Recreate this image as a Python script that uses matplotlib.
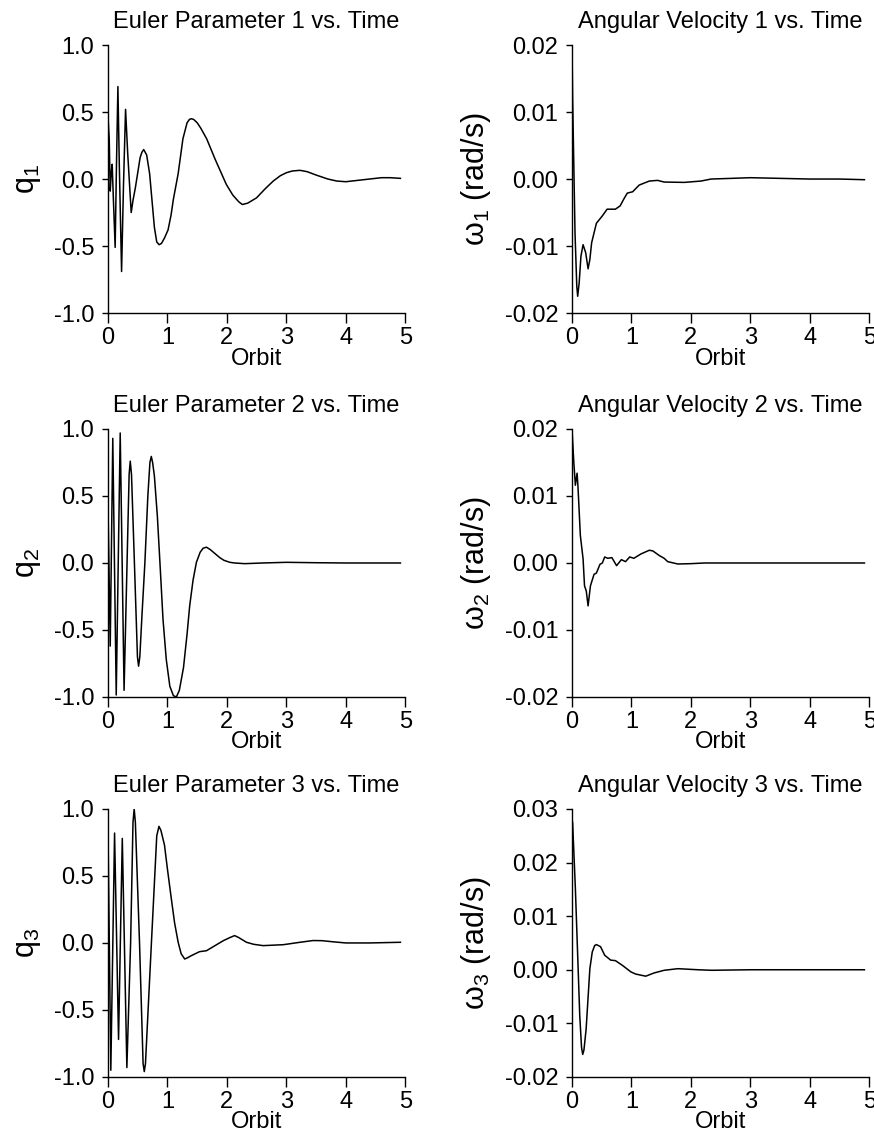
import numpy as np
import matplotlib
matplotlib.use('Agg')
import matplotlib.pyplot as plt
from matplotlib.ticker import FormatStrFormatter

plt.rcParams['font.family'] = ['Liberation Sans', 'DejaVu Sans']
plt.rcParams['mathtext.fontset'] = 'custom'
plt.rcParams['mathtext.rm'] = 'Liberation Sans'
plt.rcParams['mathtext.it'] = 'Liberation Sans'
plt.rcParams['mathtext.default'] = 'regular'
plt.rcParams['axes.unicode_minus'] = False

# values (orbit, value)
q1_t = [0.0, 0.02, 0.037, 0.055, 0.07, 0.09, 0.12, 0.14, 0.166, 0.19, 0.228, 0.26, 0.295, 0.33,
        0.39, 0.42, 0.46, 0.54, 0.57, 0.6, 0.65, 0.7, 0.74, 0.78, 0.82, 0.86, 0.9, 0.95, 1.01,
        1.06, 1.1, 1.18, 1.26, 1.33, 1.37, 1.40, 1.44, 1.5, 1.56, 1.66, 1.8, 1.9, 1.99, 2.1,
        2.2, 2.26, 2.35, 2.5, 2.65, 2.78, 2.9, 3.0, 3.1, 3.23, 3.35, 3.5, 3.7, 3.85, 4.0, 4.2,
        4.4, 4.6, 4.75, 4.92]
q1 = [0.46, 0.3, -0.09, 0.05, 0.11, -0.15, -0.51, 0.05, 0.69, 0.1, -0.69, -0.05, 0.52, 0.2,
      -0.25, -0.16, -0.065, 0.16, 0.2, 0.22, 0.18, 0.04, -0.16, -0.36, -0.47, -0.49, -0.48,
      -0.44, -0.38, -0.27, -0.15, 0.04, 0.3, 0.42, 0.445, 0.45, 0.445, 0.42, 0.38, 0.3, 0.15,
      0.05, -0.04, -0.12, -0.17, -0.19, -0.18, -0.14, -0.07, -0.015, 0.025, 0.047, 0.06,
      0.065, 0.055, 0.03, 0.0, -0.015, -0.02, -0.01, 0.0, 0.01, 0.01, 0.005]

q2_t = [0.0, 0.037, 0.08, 0.138, 0.205, 0.27, 0.32, 0.355, 0.374, 0.395, 0.444, 0.495, 0.514,
        0.535, 0.57, 0.62, 0.67, 0.705, 0.728, 0.75, 0.78, 0.83, 0.88, 0.925, 0.98, 1.04,
        1.10, 1.15, 1.2, 1.27, 1.33, 1.374, 1.43, 1.487, 1.55, 1.6, 1.656, 1.72, 1.8, 1.88,
        1.95, 2.05, 2.13, 2.3, 2.6, 3.0, 3.5, 4.0, 4.92]
q2 = [0.41, -0.62, 0.93, -0.985, 0.97, -0.95, 0.0, 0.66, 0.76, 0.66, 0.0, -0.7, -0.77, -0.7,
      -0.4, 0.0, 0.5, 0.75, 0.795, 0.75, 0.65, 0.35, -0.05, -0.42, -0.72, -0.92, -0.99, -1.0,
      -0.95, -0.78, -0.53, -0.32, -0.13, 0.005, 0.08, 0.11, 0.118, 0.1, 0.07, 0.04, 0.02,
      0.005, 0.0, -0.005, 0.0, 0.005, 0.002, 0.0, 0.0]

q3_t = [0.0, 0.047, 0.11, 0.177, 0.24, 0.317, 0.38, 0.42, 0.44, 0.46, 0.53, 0.59, 0.61, 0.63,
        0.73, 0.82, 0.857, 0.89, 0.95, 1.0, 1.065, 1.12, 1.18, 1.23, 1.29, 1.34, 1.40, 1.54,
        1.656, 1.8, 1.94, 2.05, 2.13, 2.2, 2.33, 2.45, 2.61, 2.95, 3.23, 3.45, 3.6, 3.8, 4.0,
        4.4, 4.92]
q3 = [0.81, -0.95, 0.82, -0.72, 0.78, -0.93, 0.0, 0.9, 1.0, 0.9, 0.0, -0.9, -0.96, -0.9, 0.0,
      0.8, 0.87, 0.84, 0.73, 0.55, 0.33, 0.15, 0.005, -0.08, -0.12, -0.11, -0.095, -0.065,
      -0.058, -0.02, 0.017, 0.04, 0.055, 0.04, 0.005, -0.01, -0.02, -0.013, 0.005, 0.018,
      0.017, 0.008, 0.0, 0.0, 0.005]

w1_t = [0.0, 0.01, 0.05, 0.08, 0.095, 0.12, 0.15, 0.186, 0.23, 0.27, 0.3, 0.33, 0.41, 0.51,
        0.59, 0.73, 0.81, 0.87, 0.93, 1.02, 1.13, 1.30, 1.44, 1.55, 1.89, 2.17, 2.34, 2.68,
        3.0, 3.5, 4.0, 4.5, 4.92]
w1 = [0.0195, 0.012, -0.008, -0.016, -0.0175, -0.0155, -0.0115, -0.0098, -0.011, -0.0134,
      -0.012, -0.0095, -0.0066, -0.0055, -0.0045, -0.0045, -0.004, -0.003, -0.0021, -0.0019,
      -0.0009, -0.0003, -0.0002, -0.00045, -0.0005, -0.0003, 0.0, 0.0001, 0.0002, 0.0001,
      0.0, 0.0, -0.0001]

w2_t = [0.0, 0.03, 0.056, 0.085, 0.1, 0.14, 0.186, 0.21, 0.24, 0.27, 0.31, 0.37, 0.41, 0.47,
        0.51, 0.55, 0.6, 0.67, 0.75, 0.83, 0.90, 0.97, 1.04, 1.16, 1.30, 1.36, 1.47, 1.55,
        1.61, 1.78, 2.0, 2.23, 3.0, 4.0, 4.92]
w2 = [0.0199, 0.015, 0.0116, 0.0134, 0.0114, 0.0041, 0.0006, -0.0034, -0.0042, -0.0064,
      -0.0034, -0.0017, -0.0015, -0.0002, 0.0, 0.0009, 0.0007, 0.0008, -0.0004, 0.0005,
      0.0002, 0.0009, 0.0007, 0.00135, 0.0019, 0.0018, 0.0011, 0.0007, 0.0002, -0.00015,
      -0.0001, 0.0, 0.0, 0.0, 0.0]

w3_t = [0.0, 0.01, 0.056, 0.095, 0.13, 0.16, 0.18, 0.2, 0.237, 0.30, 0.34, 0.38, 0.41, 0.48,
        0.55, 0.65, 0.73, 0.85, 0.99, 1.07, 1.24, 1.38, 1.55, 1.78, 2.12, 2.35, 3.0, 4.0, 4.92]
w3 = [0.028, 0.0274, 0.0152, 0.0027, -0.0086, -0.0145, -0.0158, -0.015, -0.0111, 0.0002,
      0.0033, 0.0045, 0.0047, 0.0043, 0.0027, 0.0018, 0.0017, 0.0008, -0.0004, -0.0008,
      -0.0012, -0.0006, -0.0001, 0.0002, 0.0, -0.0001, 0.0, 0.0, 0.0]

panels = [
    (q1_t, q1, 'Euler Parameter 1 vs. Time', 'q$_1$', (-1, 1), [-1, -0.5, 0, 0.5, 1], '%.1f'),
    (w1_t, w1, 'Angular Velocity 1 vs. Time', r'$\omega_1$ (rad/s)', (-0.02, 0.02),
     [-0.02, -0.01, 0, 0.01, 0.02], '%.2f'),
    (q2_t, q2, 'Euler Parameter 2 vs. Time', 'q$_2$', (-1, 1), [-1, -0.5, 0, 0.5, 1], '%.1f'),
    (w2_t, w2, 'Angular Velocity 2 vs. Time', r'$\omega_2$ (rad/s)', (-0.02, 0.02),
     [-0.02, -0.01, 0, 0.01, 0.02], '%.2f'),
    (q3_t, q3, 'Euler Parameter 3 vs. Time', 'q$_3$', (-1, 1), [-1, -0.5, 0, 0.5, 1], '%.1f'),
    (w3_t, w3, 'Angular Velocity 3 vs. Time', r'$\omega_3$ (rad/s)', (-0.02, 0.03),
     [-0.02, -0.01, 0, 0.01, 0.02, 0.03], '%.2f'),
]

fig = plt.figure(figsize=(8.74, 11.4), dpi=100, facecolor='white')
lefts = [0.1236, 0.6545]
bottoms = [0.7254, 0.3886, 0.0553]
w, h = 0.34, 0.2351

for i, (t, v, title, ylabel, ylim, yticks, fmt) in enumerate(panels):
    ax = fig.add_axes([lefts[i % 2], bottoms[i // 2], w, h])
    ax.plot(t, v, '-', color='black', lw=1.1)
    ax.set_xlim(0, 5)
    ax.set_ylim(ylim)
    ax.set_xticks(range(6))
    ax.set_yticks(yticks)
    ax.yaxis.set_major_formatter(FormatStrFormatter(fmt))
    for s in ['top', 'right']:
        ax.spines[s].set_visible(False)
    for s in ['left', 'bottom']:
        ax.spines[s].set_linewidth(1.0)
    ax.tick_params(axis='x', direction='out', length=7, width=1.0, labelsize=17, pad=3)
    ax.tick_params(axis='y', direction='out', length=4, width=1.0, labelsize=17, pad=6)
    ax.set_xlabel('Orbit', fontsize=17, labelpad=-1)
    ax.set_ylabel(ylabel, fontsize=22, labelpad=8)
    ax.set_title(title, fontsize=17, pad=12)

fig.savefig('out.png', dpi=100)
